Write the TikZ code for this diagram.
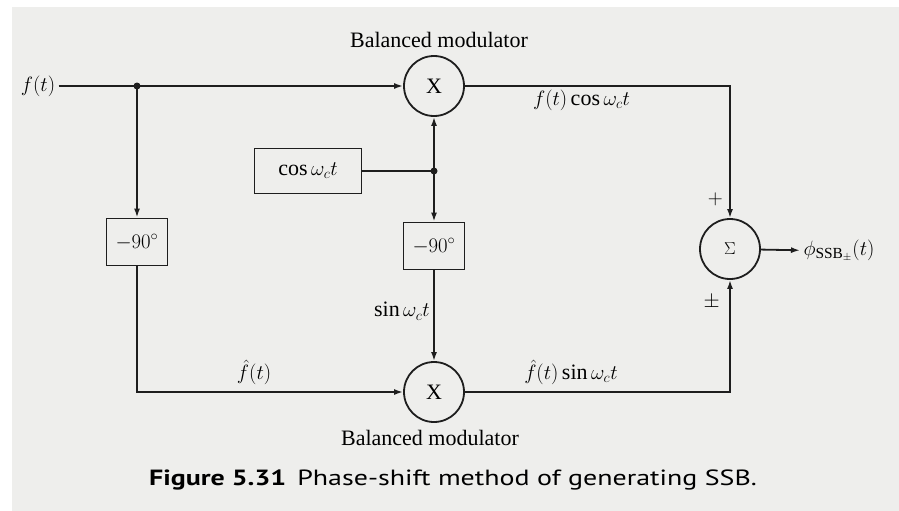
\documentclass[tikz,border=0pt]{standalone}
\usepackage{amsmath}
\usepackage{fontspec}
\setmainfont{Liberation Serif}
\newfontfamily\captionfont[FakeStretch=1.27]{PT Sans}
\usetikzlibrary{arrows.meta,calc,positioning}
\definecolor{PaperGrey}{RGB}{238,238,236}
\definecolor{InkBlack}{RGB}{30,30,30}

\begin{document}
\begin{tikzpicture}[x=1pt, y=-1pt, >={Latex[length=9pt,width=6pt]},
    font=\fontsize{22}{26}\selectfont,
    wire/.style={draw=InkBlack, line width=1.8pt},
    modulator/.style={circle, draw=InkBlack, line width=1.8pt, minimum size=60pt, inner sep=0pt},
    shifter/.style={draw=InkBlack, line width=1.8pt, minimum width=61pt, minimum height=47pt, inner sep=2pt},
    dot/.style={circle, fill=InkBlack, inner sep=0pt, minimum size=7pt}]

    % paper
    \useasboundingbox (0,0) rectangle (899,511);
    \fill[PaperGrey] (12,7) rectangle (899,511);

    \node (ft) at (38,86) {$f(t)$};
    \node[modulator] (top) at (434,86) {X};
    \node[modulator] (bot) at (434,392) {X};
    \node[modulator] (sum) at (730,249) {\fontsize{16}{18}\selectfont$\Sigma$};
    \node[shifter, minimum width=107pt, minimum height=45pt] (osc) at (308,171) {$\cos\omega_c t$};
    \node[shifter] (lshift) at (137,242) {$-90^\circ$};
    \node[shifter] (rshift) at (434,246) {$-90^\circ$};
    \node[anchor=west] (out) at (800,251) {$\phi_{\mathrm{SSB}_{\pm}}(t)$};

    \node (toplabel) at (439,40) {Balanced modulator};
    \node (botlabel) at (430,438) {Balanced modulator};

    \coordinate (j1) at (137,86);
    \coordinate (j2) at (434,171);
    \node[dot] at (j1) {};
    \node[dot] at (j2) {};

    \draw[wire, ->] (ft) -- (top);
    \draw[wire, ->] (j1) -- (lshift);
    \draw[wire] (osc) -- (j2);
    \draw[wire, ->] (j2) -- (top);
    \draw[wire, ->] (j2) -- (rshift);
    \draw[wire, ->] (lshift) |- node[above=3pt, pos=0.72] {$\hat f(t)$} (bot);
    \draw[wire, ->] (rshift) -- node[left, pos=0.45] {$\sin\omega_c t$} (bot);
    \draw[wire, ->] (top) -| node[below, pos=0.22] {$f(t)\cos\omega_c t$} node[pos=0.93, left=3pt] {$+$} (sum);
    \draw[wire, ->] (bot) -| node[above=3pt, pos=0.2] {$\hat f(t)\sin\omega_c t$} node[pos=0.9, left=6pt] {$\pm$} (sum);
    \draw[wire, ->] (sum) -- (out);

    \node (caption) at (453,480) {\captionfont\fontsize{22}{26}\selectfont\bfseries Figure 5.31\enspace\mdseries Phase-shift method of generating SSB.};
\end{tikzpicture}
\end{document}
